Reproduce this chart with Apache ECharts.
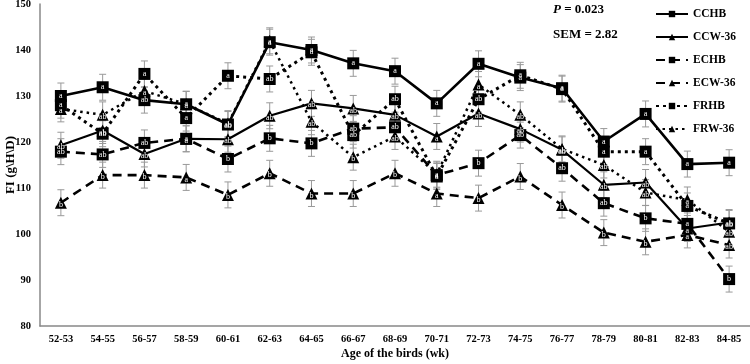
<!DOCTYPE html>
<html>
<head>
<meta charset="utf-8">
<script src="https://cdn.jsdelivr.net/npm/echarts@6/dist/echarts.min.js"></script>
<style>
  html, body { margin: 0; padding: 0; background: #fff; }
  #chart { width: 750px; height: 364px; }
</style>
</head>
<body>
<div id="chart"></div>
<script>
  // age groups (wk)
  const ages = ['52-53', '54-55', '56-57', '58-59', '60-61', '62-63', '64-65', '66-67', '68-69',
    '70-71', '72-73', '74-75', '76-77', '78-79', '80-81', '82-83', '84-85']
  const yTicks = [80, 90, 100, 110, 120, 130, 140, 150]

  // FI values
  const cchb = [130.0, 131.9, 129.1, 128.2, 123.8, 141.7, 140.0, 137.1, 135.4, 128.4, 137.0, 134.0, 131.7, 120.1, 126.1, 115.2, 115.5]
  const ccw36 = [119.3, 122.5, 117.4, 120.7, 120.6, 125.7, 128.4, 127.3, 125.9, 121.2, 126.2, 122.8, 118.3, 110.7, 111.2, 101.2, 102.5]
  const echb = [117.9, 117.3, 119.8, 120.7, 116.3, 120.8, 119.7, 122.9, 123.2, 112.8, 115.4, 121.5, 114.3, 106.7, 103.4, 102.2, 90.2]
  const ecw36 = [106.8, 112.8, 112.8, 112.3, 108.5, 113.2, 108.8, 108.8, 113.2, 108.8, 107.8, 112.5, 106.3, 100.3, 98.3, 99.8, 97.6]
  const frhb = [128.0, 121.8, 134.8, 125.2, 134.4, 133.7, 139.5, 121.5, 129.3, 112.5, 129.3, 134.5, 131.5, 117.9, 117.9, 106.1, 102.3]
  const frw36 = [127.2, 125.9, 131.1, 128.2, 124.0, 142.0, 124.4, 116.7, 121.2, 113.0, 132.5, 125.9, 118.5, 115.0, 109.0, 107.4, 100.5]

  // letters shown inside markers
  const cchbTag = ['a', 'a', 'ab', 'a', 'ab', 'a', 'a', 'a', 'a', 'a', 'a', 'a', 'a', 'a', 'a', 'a', 'a']
  const ccw36Tag = ['ab', 'ab', 'ab', 'a', 'ab', 'ab', 'ab', 'ab', 'ab', 'a', 'ab', 'ab', 'ab', 'ab', 'ab', 'a', 'ab']
  const echbTag = ['ab', 'ab', 'ab', 'a', 'b', 'b', 'b', 'ab', 'ab', 'a', 'b', 'ab', 'ab', 'ab', 'b', 'a', 'b']
  const ecw36Tag = ['b', 'b', 'b', 'a', 'b', 'b', 'b', 'b', 'b', 'a', 'b', 'b', 'b', 'b', 'b', 'a', 'ab']
  const frhbTag = ['a', 'ab', 'a', 'a', 'a', 'ab', 'a', 'ab', 'ab', 'a', 'ab', 'a', 'a', 'a', 'a', 'a', 'ab']
  const frw36Tag = ['a', 'ab', 'a', 'a', 'ab', 'a', 'ab', 'b', 'ab', 'a', 'a', 'ab', 'ab', 'ab', 'ab', 'a', 'ab']

  const sem = 2.82
  const font = 'Liberation Serif'

  function makeLine(name, data, tags, symbol, lineType, width) {
    return {
      name: name,
      type: 'line',
      data: data,
      symbol: symbol,
      symbolSize: 12,
      z: 3,
      lineStyle: { color: '#000', width: width, type: lineType },
      itemStyle: { color: '#000' },
      label: {
        show: true,
        position: 'inside',
        color: '#fff',
        fontFamily: font,
        fontSize: 8,
        offset: symbol == 'triangle' ? [0, 2] : [0, 0],
        formatter: p => tags[p.dataIndex]
      },
      animation: false
    }
  }

  // error bars: +/- SEM for every point
  let errData = []
  ;[cchb, ccw36, echb, ecw36, frhb, frw36].forEach(arr => {
    arr.forEach((v, i) => errData.push([i, v - sem, v + sem]))
  })

  const chart = echarts.init(document.getElementById('chart'))
  chart.setOption({
    animation: false,
    textStyle: { fontFamily: font },
    grid: { left: 40, right: 0, top: 4, bottom: 38, outerBoundsMode: 'none', containLabel: false },
    legend: {
      data: ['CCHB', 'CCW-36', 'ECHB', 'ECW-36', 'FRHB', 'FRW-36'],
      orient: 'vertical',
      left: 650,
      top: 3,
      itemWidth: 32,
      itemHeight: 8,
      itemGap: 11,
      textStyle: { fontFamily: font, fontWeight: 'bold', fontSize: 11.5, color: '#000' }
    },
    graphic: [
      {
        type: 'text', left: 553, top: 3,
        style: {
          text: '{i|P} = 0.023',
          font: 'bold 13px "Liberation Serif"',
          fill: '#000',
          rich: { i: { fontStyle: 'italic', fontWeight: 'bold', fontSize: 13, fontFamily: font } }
        }
      },
      {
        type: 'text', left: 553, top: 28,
        style: { text: 'SEM = 2.82', font: 'bold 13px "Liberation Serif"', fill: '#000' }
      },
      // axis titles
      {
        type: 'text', x: 11, y: 165, rotation: Math.PI / 2,
        style: { text: 'FI (g\\H\\D)', font: 'bold 13px "Liberation Serif"', fill: '#000', align: 'center', verticalAlign: 'middle' }
      },
      {
        type: 'text', x: 395, y: 354,
        style: { text: 'Age of the birds (wk)', font: 'bold 12px "Liberation Serif"', fill: '#000', align: 'center', verticalAlign: 'middle' }
      }
    ],
    xAxis: {
      type: 'category',
      data: ages,
      axisLine: { lineStyle: { color: '#888', width: 1.5 } },
      axisTick: { show: false },
      axisLabel: { interval: 0, margin: 8, fontFamily: font, fontWeight: 'bold', fontSize: 10.5, color: '#000' }
    },
    yAxis: {
      type: 'value',
      min: yTicks[0],
      max: yTicks[yTicks.length - 1],
      interval: 10,
      axisLine: { show: true, lineStyle: { color: '#888', width: 1.5 } },
      axisTick: { show: false },
      splitLine: { show: false },
      axisLabel: { margin: 9, fontFamily: font, fontWeight: 'bold', fontSize: 10.5, color: '#000' }
    },
    series: [
      {
        type: 'custom',
        z: 1,
        silent: true,
        data: errData,
        renderItem: function (params, api) {
          const lo = api.coord([api.value(0), api.value(1)])
          const hi = api.coord([api.value(0), api.value(2)])
          const w = 3.5
          const st = { stroke: '#999', lineWidth: 1 }
          return {
            type: 'group',
            children: [
              { type: 'line', shape: { x1: lo[0], y1: lo[1], x2: hi[0], y2: hi[1] }, style: st },
              { type: 'line', shape: { x1: lo[0] - w, y1: lo[1], x2: lo[0] + w, y2: lo[1] }, style: st },
              { type: 'line', shape: { x1: hi[0] - w, y1: hi[1], x2: hi[0] + w, y2: hi[1] }, style: st }
            ]
          }
        }
      },
      makeLine('CCHB', cchb, cchbTag, 'rect', 'solid', 2.6),
      makeLine('CCW-36', ccw36, ccw36Tag, 'triangle', 'solid', 2.2),
      makeLine('ECHB', echb, echbTag, 'rect', [9, 6], 2.6),
      makeLine('ECW-36', ecw36, ecw36Tag, 'triangle', [9, 6], 2.6),
      makeLine('FRHB', frhb, frhbTag, 'rect', [3, 4], 3),
      makeLine('FRW-36', frw36, frw36Tag, 'triangle', [2.5, 4], 2.5)
    ]
  })
</script>
</body>
</html>
